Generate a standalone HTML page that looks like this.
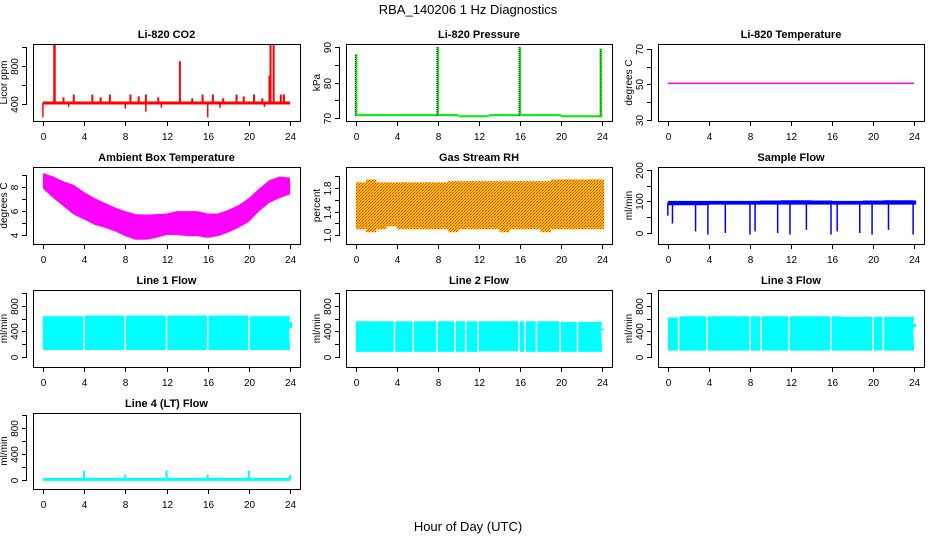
<!DOCTYPE html>
<html><head><meta charset="utf-8">
<style>
html,body{margin:0;padding:0;background:#fff;}
svg{display:block;font-family:"Liberation Sans",Arial,sans-serif;}
</style></head>
<body>
<svg id="chart" width="936" height="540" viewBox="0 0 936 540">
<defs>
<pattern id="rhpat" width="3" height="3" patternUnits="userSpaceOnUse">
<rect width="3" height="3" fill="#ffcc00"/><rect width="1" height="1" fill="#ff2000"/><rect x="2" y="1" width="1" height="1" fill="#ff2000"/><rect x="1" y="2" width="1" height="1" fill="#ff6000"/>
</pattern>
</defs>
<text x="468" y="14" text-anchor="middle" font-size="13">RBA_140206  1 Hz Diagnostics</text>
<text x="468" y="531" text-anchor="middle" font-size="13">Hour of Day (UTC)</text>
</svg>
<script>
// ---- data ----
const hours = [0,1,2,3,4,5,6,7,8,9,10,11,12,13,14,15,16,17,18,19,20,21,22,23,24];
const xTicks = [0,4,8,12,16,20,24];
// CO2
const co2Base = [410,410,410,410,410,410,410,410,410,410,410,410,410,410,410,410,410,410,410,410,410,410,410,410,410];
const co2SpikeH = [1.1,1.15,2.0,3.0,4.8,5.6,6.5,8.5,9.3,10.0,11.2,13.3,14.5,15.5,16.5,17.5,18.8,19.5,20.5,21.3,22.0,22.1,22.4,23.1,23.4];
const co2SpikeV = [1030,1030,470,500,500,470,500,500,480,500,470,850,460,500,500,460,500,480,500,460,700,1030,1030,500,500];
const co2DipH = [0.0,2.5,8.0,10.0,11.5,16.0,17.2,21.5];
const co2DipV = [260,370,350,320,360,260,360,370];
// Pressure
const presSegH = [0,10,13,20,24];
const presSegV = [70.8,70.5,70.8,70.5];
const presSpikeH = [0.05,8.0,16.0,23.9];
const presSpikeV = [88,90,90,89.5];
// Li-820 temperature
const tempH = [0,24];
const tempV = [50.6,50.6];
// Ambient box temperature
const ambHi = [9.2,8.9,8.5,8.2,7.6,7.1,6.7,6.3,6.0,5.75,5.7,5.75,5.8,6.0,6.0,6.0,5.8,5.8,6.1,6.5,7.1,7.9,8.6,8.9,8.8];
const ambLo = [7.9,7.1,6.4,5.7,5.3,4.85,4.6,4.3,3.9,3.6,3.6,3.75,4.0,4.0,3.9,3.9,3.75,3.9,4.2,4.6,5.1,6.0,6.7,7.1,7.4];
// Gas stream RH
const rhHi = [1.9,1.95,1.9,1.9,1.9,1.9,1.9,1.9,1.9,1.92,1.92,1.92,1.92,1.92,1.92,1.92,1.92,1.92,1.92,1.95,1.95,1.95,1.95,1.95,1.95];
const rhLo = [1.1,1.05,1.1,1.15,1.1,1.1,1.1,1.1,1.1,1.05,1.1,1.1,1.1,1.1,1.05,1.1,1.1,1.1,1.05,1.1,1.1,1.1,1.1,1.1,1.1];
// Sample flow
const sfHi = [102,102,102,102,102,102,102,102,102,103,103,104,104,104,103,103,102,102,102,103,103,104,104,104,103];
const sfLo = [88,88,88,88,90,90,90,90,90,90,90,90,90,90,90,90,90,90,90,90,90,90,90,90,90];
const sfDipH = [0.0,0.45,2.7,3.9,5.6,8.0,8.5,10.7,11.9,13.5,15.9,16.5,18.7,19.9,21.5,23.9];
const sfDipV = [55,30,5,-5,0,-5,5,0,-5,10,-5,5,0,-5,10,-5];
// Line flows
const l1Hi = [640,640,640,640,650,650,650,650,650,650,650,650,650,650,650,650,650,650,650,650,640,640,640,640,550];
const l1Lo = [110,110,110,110,110,110,110,110,110,110,110,110,110,110,110,110,110,110,110,110,110,110,110,110,450];
const l1Gap = [4.0,8.0,12.0,16.0,20.0];
const l2Hi = [560,560,560,560,560,560,560,560,560,560,560,560,560,560,560,560,560,560,560,560,550,550,550,550,440];
const l2Lo = [80,80,80,80,80,80,80,80,80,80,80,80,90,90,90,90,80,80,80,80,80,80,80,80,420];
const l2Gap = [3.76,5.6,7.9,9.65,10.7,11.9,15.9,16.5,17.6,19.9,21.6];
const l3Hi = [620,640,640,640,640,640,640,640,640,640,640,640,640,640,640,640,640,630,630,630,630,630,630,630,520];
const l3Lo = [100,100,100,100,100,100,100,100,100,100,100,100,100,100,100,100,100,100,100,100,100,100,100,100,470];
const l3Gap = [1.05,3.8,8.0,9.1,11.8,15.9,20.0,21.0];
const l4Base = [10,10,10,10,10,10,10,10,10,10,10,10,10,10,10,10,10,10,10,10,10,10,10,10,10];
const l4SpikeH = [4,8,12,16,20,24];
const l4SpikeV = [140,80,150,80,140,80];

// ---- layout ----
const NS = "http://www.w3.org/2000/svg";
const svg = document.getElementById('chart');
const COLS = [[33,300],[346,612],[658,924]];
const ROWS = [[44,121],[167,244],[290,367],[413,489]];
function el(tag, attrs, parent){
  const e = document.createElementNS(NS, tag);
  for (const k in attrs) e.setAttribute(k, attrs[k]);
  (parent||svg).appendChild(e);
  return e;
}
function panel(c, r, title, ylab, ymin, ymax, yTicks, yLabels, name){
  const [x0,x1] = COLS[c], [y0,y1] = ROWS[r];
  const g = el('g', {});
  
  
  const sx = h => x0 + (h + 0.96) / 25.92 * (x1 - x0);
  const sy = v => y1 - (v - ymin) / (ymax - ymin) * (y1 - y0);
  const t = el('text', {x:(x0+x1)/2, y:y0-6, 'text-anchor':'middle', 'font-size':11, 'font-weight':'bold'}, g);
  t.textContent = title;
  
  
  const plot = el('g', {}, g);
  
  
  const box = el('rect', {x:x0+0.5, y:y0+0.5, width:x1-x0, height:y1-y0, fill:'none', stroke:'#000', 'stroke-width':1}, g);
  
  
  const xa = el('g', {}, g);
  
  
  el('line', {x1:sx(xTicks[0]), x2:sx(xTicks[xTicks.length-1]), y1:y1+0.5, y2:y1+0.5, stroke:'#000'}, xa);
  xTicks.forEach(h => {
    const X = Math.round(sx(h)) + 0.5;
    el('line', {x1:X, x2:X, y1:y1, y2:y1+5, stroke:'#000'}, xa);
    const tl = el('text', {x:X, y:y1+19, 'text-anchor':'middle', 'font-size':10}, xa);
    tl.textContent = h;
  });
  const ya = el('g', {}, g);
  
  
  el('line', {x1:x0-6.5, x2:x0-6.5, y1:sy(yTicks[0]), y2:sy(yTicks[yTicks.length-1]), stroke:'#000'}, ya);
  yTicks.forEach((v,i) => {
    const Y = Math.round(sy(v)) + 0.5;
    el('line', {x1:x0-11, x2:x0-6, y1:Y, y2:Y, stroke:'#000'}, ya);
    if (yLabels[i] !== '') {
      const tl = el('text', {x:0, y:0, 'text-anchor':'middle', 'font-size':10, transform:`translate(${x0-15},${Y}) rotate(-90)`}, ya);
      tl.textContent = yLabels[i];
    }
  });
  const yl = el('text', {x:0, y:0, 'text-anchor':'middle', 'font-size':10, transform:`translate(${x0-26},${(y0+y1)/2}) rotate(-90)`}, g);
  yl.textContent = ylab;
  
  
  return {sx, sy, g: plot};
}
function band(p, hi, lo, fill, stepped){
  let d = '';
  const n = hours.length;
  if (!stepped) {
    hours.forEach((h,i) => { d += (i ? 'L' : 'M') + p.sx(h) + ',' + p.sy(hi[i]); });
    for (let i = n-1; i >= 0; i--) d += 'L' + p.sx(hours[i]) + ',' + p.sy(lo[i]);
  } else {
    const ex = i => (i < n-1 ? p.sx(hours[i+1]) : p.sx(hours[i]) + 2);
    for (let i = 0; i < n; i++) {
      const xs = i < n-1 ? p.sx(hours[i]) : p.sx(hours[i]) - 1;
      d += (i ? 'L' : 'M') + xs + ',' + p.sy(hi[i]) + 'L' + ex(i) + ',' + p.sy(hi[i]);
    }
    for (let i = n-1; i >= 0; i--) {
      const xs = i < n-1 ? p.sx(hours[i]) : p.sx(hours[i]) - 1;
      d += 'L' + ex(i) + ',' + p.sy(lo[i]) + 'L' + xs + ',' + p.sy(lo[i]);
    }
  }
  return el('path', {d: d + 'Z', fill: fill, stroke: 'none'}, p.g);
}
function vlines(p, H, V, base, color, w){
  H.forEach((h,i) => {
    const ln = el('line', {x1:p.sx(h), x2:p.sx(h), y1:p.sy(base), y2:p.sy(V[i]), stroke:color, 'stroke-width':w}, p.g);
    
    
  });
}
function poly(p, H, V, color, w){
  const pts = H.map((h,i) => p.sx(h) + ',' + p.sy(V[i])).join(' ');
  return el('polyline', {points: pts, fill:'none', stroke:color, 'stroke-width':w}, p.g);
}

let p = panel(0,0,'Li-820 CO2','Licor ppm',221,1032,[400,600,800,1000],['400','','800',''],'co2');
poly(p, hours, co2Base, '#ff0000', 3);
vlines(p, co2SpikeH, co2SpikeV, 410, '#ff0000', 2);
vlines(p, co2DipH, co2DipV, 410, '#ff0000', 1.5);

p = panel(1,0,'Li-820 Pressure','kPa',69.15,90.85,[70,75,80,85,90],['70','','80','','90'],'pressure');
presSegV.forEach((v,i) => {
  const s = el('line', {x1:p.sx(presSegH[i]), x2:p.sx(presSegH[i+1]), y1:p.sy(v), y2:p.sy(v), stroke:'#00ee00', 'stroke-width':2}, p.g);
  
  
});
vlines(p, presSpikeH, presSpikeV, 70.6, '#00ee00', 2);
presSpikeH.forEach((h,i) => {
  el('line', {x1:p.sx(h)-1, x2:p.sx(h)-1, y1:p.sy(70.6), y2:p.sy(presSpikeV[i]), stroke:'#000', 'stroke-width':1, 'stroke-dasharray':'1,1'}, p.g);
});

p = panel(2,0,'Li-820 Temperature','degrees C',29.4,72.8,[30,40,50,60,70],['30','','50','','70'],'li820-temperature');
poly(p, tempH, tempV, '#ff00ff', 1.5);

p = panel(0,1,'Ambient Box Temperature','degrees C',3.24,9.7,[4,5,6,7,8,9],['4','','6','','8',''],'ambient-temperature');
band(p, ambHi, ambLo, '#ff00ff', false);

p = panel(1,1,'Gas Stream RH','percent',0.85,2.16,[1.0,1.2,1.4,1.6,1.8,2.0],['1.0','','1.4','','1.8',''],'gas-stream-rh');
band(p, rhHi, rhLo, 'url(#rhpat)', true);

p = panel(2,1,'Sample Flow','ml/min',-35,209.5,[0,50,100,150,200],['0','','100','','200'],'sample-flow');
band(p, sfHi, sfLo, '#0000ff', true);
vlines(p, sfDipH, sfDipV, 95, '#0000ff', 1.5);

const lineCfg = [[0,2,'Line 1 Flow',l1Hi,l1Lo,l1Gap,'line1-flow'],[1,2,'Line 2 Flow',l2Hi,l2Lo,l2Gap,'line2-flow'],[2,2,'Line 3 Flow',l3Hi,l3Lo,l3Gap,'line3-flow']];
lineCfg.forEach(cfg => {
  const q = panel(cfg[0],cfg[1],cfg[2],'ml/min',-157,1051,[0,200,400,600,800,1000],['0','','400','','800',''],cfg[6]);
  band(q, cfg[3], cfg[4], '#00ffff', true);
  cfg[5].forEach(h => {
    const gl = el('line', {x1:q.sx(h), x2:q.sx(h), y1:q.sy(700), y2:q.sy(0), stroke:'#fff', 'stroke-width':1.5}, q.g);
    
    
  });
});

p = panel(0,3,'Line 4 (LT) Flow','ml/min',-139,1037,[0,200,400,600,800,1000],['0','','400','','800',''],'line4-flow');
poly(p, hours, l4Base, '#00ffff', 3);
vlines(p, l4SpikeH, l4SpikeV, 10, '#00ffff', 2);
</script>
</body></html>
